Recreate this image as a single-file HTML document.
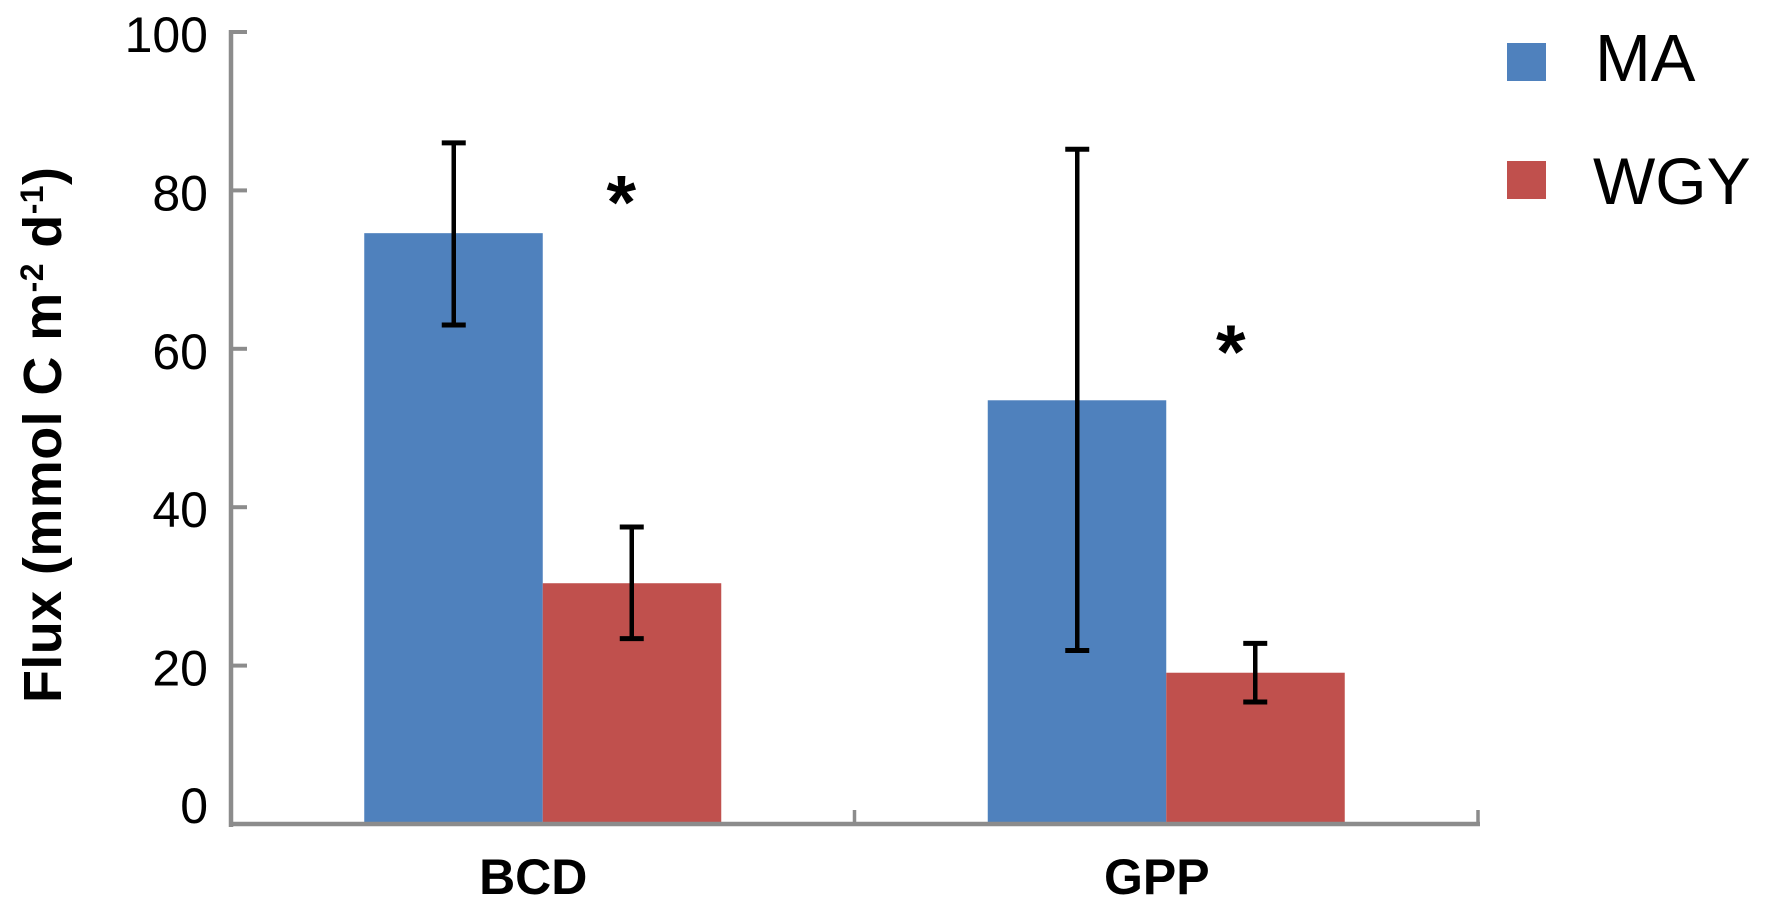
<!DOCTYPE html>
<html>
<head>
<meta charset="utf-8">
<title>Flux chart</title>
<style>
html,body{margin:0;padding:0;background:#fff;}
svg{display:block;font-family:"Liberation Sans",Arial,sans-serif;}
</style>
</head>
<body>
<svg id="chart" xmlns="http://www.w3.org/2000/svg" width="1769" height="913" viewBox="0 0 1769 913">
<rect x="0" y="0" width="1769" height="913" fill="#ffffff"/>
<text transform="translate(61,703) rotate(-90)" font-size="54" font-weight="700" letter-spacing="0.4" fill="#000">Flux (mmol C m<tspan font-size="32" dy="-18">-2</tspan><tspan dy="18"> d</tspan><tspan font-size="32" dy="-18">-1</tspan><tspan dy="18">)</tspan></text>
<g>
<rect x="1507" y="43" width="39" height="38" fill="#4f81bd"/>
<text x="1595" y="81" font-size="67" fill="#000">MA</text>
<rect x="1507" y="161" width="39" height="38" fill="#c0504d"/>
<text x="1593" y="204" font-size="66" fill="#000">WGY</text>
</g>
</svg>
<script>
var categories = ["BCD", "GPP"];
var seriesNames = ["MA", "WGY"];
var maValues = [74.6, 53.5];
var wgyValues = [30.4, 19.1];
var maErrorHigh = [86, 85.2];
var maErrorLow = [63, 21.9];
var wgyErrorHigh = [37.5, 22.8];
var wgyErrorLow = [23.4, 15.4];
var yTickLabels = [0, 20, 40, 60, 80, 100];
var significance = ["*", "*"];
var significanceLevels = [80, 61.1];

var svg = document.getElementById('chart');
var NS = 'http://www.w3.org/2000/svg';
var plotLeft = 231, plotRight = 1478, plotBottom = 824, plotTop = 32, yMax = 100;
var barWidth = 178.5;

function yScale(v) { return plotBottom - (v / yMax) * (plotBottom - plotTop); }
function catWidth() { return (plotRight - plotLeft) / categories.length; }
function catCenter(i) { return plotLeft + catWidth() * (i + 0.5); }

function make(tag, props, parent) {
  var el = document.createElementNS(NS, tag);
  for (var k in props) { el.setAttribute(k, props[k]); }
  (parent || svg).appendChild(el);
  return el;
}

var seriesColors = ['#4f81bd', '#c0504d'];
var seriesValues = [maValues, wgyValues];
var seriesHigh = [maErrorHigh, wgyErrorHigh];
var seriesLow = [maErrorLow, wgyErrorLow];
var errorXOffset = [-89, 89];

// bars
seriesValues.forEach(function (vals, s) {
  vals.forEach(function (v, i) {
    var x = s === 0 ? catCenter(i) - barWidth : catCenter(i);
    var bar = make('rect', { x: x, y: yScale(v), width: barWidth, height: plotBottom - yScale(v), fill: seriesColors[s] });
    
    
  });
});

// axes
var axisColor = '#8c8c8c';
var yAxis = make('line', { x1: plotLeft, x2: plotLeft, y1: plotTop - 2, y2: plotBottom + 3, stroke: axisColor, 'stroke-width': 4.5 });


var xAxis = make('line', { x1: plotLeft - 2, x2: plotRight + 2, y1: plotBottom, y2: plotBottom, stroke: axisColor, 'stroke-width': 4.5 });



yTickLabels.forEach(function (t) {
  var y = yScale(t);
  var tick = make('line', { x1: plotLeft, x2: plotLeft + 16, y1: y, y2: y, stroke: axisColor, 'stroke-width': 4 });
  
  
  var label = make('text', { x: 208, y: Math.min(y + 20, 823), 'text-anchor': 'end', 'font-size': 50, fill: '#000' });
  label.textContent = String(t);
  
  
});

for (var c = 1; c <= categories.length; c++) {
  var tx = plotLeft + catWidth() * c;
  var xt = make('line', { x1: tx, x2: tx, y1: plotBottom - 14, y2: plotBottom, stroke: axisColor, 'stroke-width': 3.5 });
  
  
}

categories.forEach(function (name, i) {
  var lab = make('text', { x: catCenter(i) - 9.5, y: 894, 'text-anchor': 'middle', 'font-size': 50, 'font-weight': 700, fill: '#000' });
  lab.textContent = name;
  
  
});

// error bars
seriesValues.forEach(function (vals, s) {
  vals.forEach(function (v, i) {
    var x = catCenter(i) + errorXOffset[s];
    var g = make('g', {});
    
    
    var hi = yScale(seriesHigh[s][i]), lo = yScale(seriesLow[s][i]);
    make('line', { x1: x, x2: x, y1: hi, y2: lo, stroke: '#000', 'stroke-width': 4.5 }, g);
    make('line', { x1: x - 12, x2: x + 12, y1: hi, y2: hi, stroke: '#000', 'stroke-width': 5 }, g);
    make('line', { x1: x - 12, x2: x + 12, y1: lo, y2: lo, stroke: '#000', 'stroke-width': 5 }, g);
  });
});

// significance marks
significance.forEach(function (mark, i) {
  var st = make('text', { x: catCenter(i) + 78.5 - (i === 1 ? 14 : 0), y: yScale(significanceLevels[i]) + 38, 'text-anchor': 'middle', 'font-size': 76, 'font-weight': 700, fill: '#000' });
  st.textContent = mark;
  
  
});
</script>
</body>
</html>
